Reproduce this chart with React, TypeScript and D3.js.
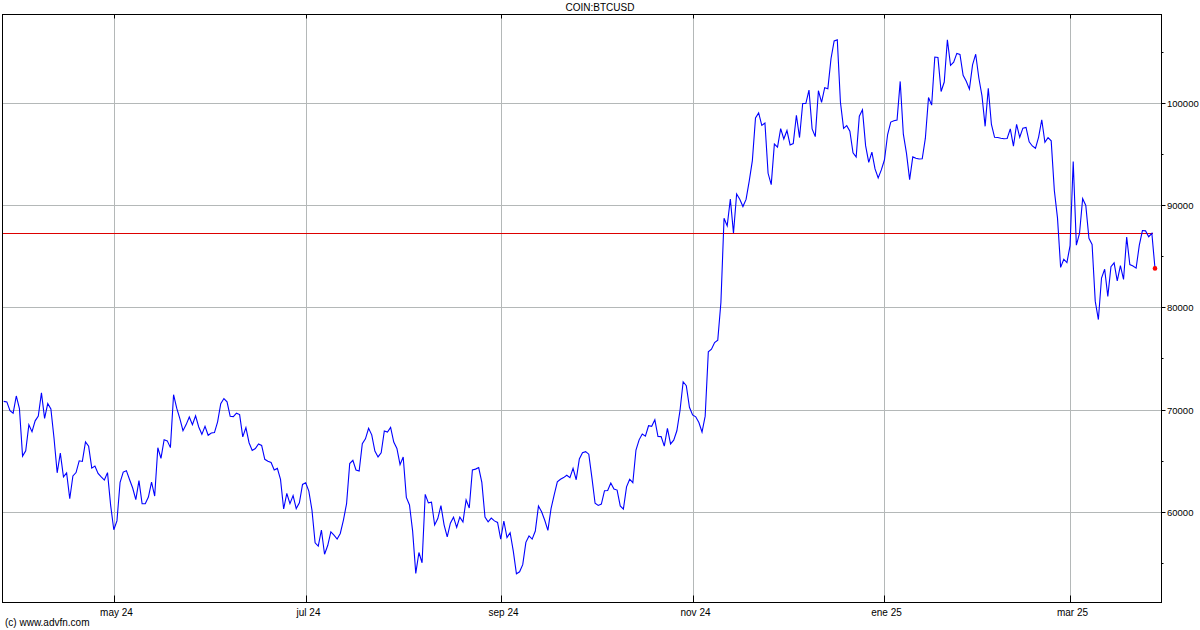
import React from "react";
import * as d3 from "d3";

// Daily BTC/USD closes, starting 27 Mar 2024 (one value per day)
const startDate = new Date(2024, 2, 27);
const closes: number[] = [
  // Mar 27 - Mar 31 2024
  70800, 70750, 69890, 69650, 71330,
  // Apr 2024
  70100, 65450, 65980, 68510, 67840, 68900, 69360, 71630, 69140, 70590,
  70060, 67200, 63820, 65740, 63430, 63810, 61280, 63510, 63840, 64990,
  64930, 66840, 66410, 64280, 64480, 63760, 63420, 63110, 63840, 60640,
  // May 2024
  58250, 59120, 62890, 63890, 64030, 63160, 62330, 61190, 63050, 60790,
  60790, 61450, 62900, 61550, 66270, 65230, 67050, 66940, 66280, 71450,
  70140, 69120, 67930, 68530, 69270, 68520, 69390, 68300, 67580, 68360, 67490,
  // Jun 2024
  67710, 67750, 68800, 70570, 71080, 70760, 69340, 69310, 69650, 69510,
  67330, 68240, 66760, 66010, 66190, 66640, 66490, 65140, 64960, 64830,
  64100, 64250, 63180, 60280, 61800, 60810, 61600, 60320, 60890, 62680,
  // Jul 2024
  62850, 62030, 60170, 56980, 56660, 58230, 55860, 56710, 58050, 57730,
  57340, 57890, 59200, 60800, 64730, 65040, 64090, 63990, 66660, 67140,
  68170, 67530, 65940, 65370, 65780, 67910, 67810, 68260, 66820, 66200, 64620,
  // Aug 2024
  65360, 61420, 60680, 58120, 53990, 56030, 55030, 61710, 60880, 60950,
  58720, 59350, 60610, 58740, 57560, 58890, 59480, 58480, 59490, 59010,
  61180, 60380, 64090, 64180, 64330, 62880, 59500, 59030, 59390, 59120, 58970,
  // Sep 2024
  57330, 59110, 57490, 57970, 56160, 53950, 54140, 54840, 57020, 57650,
  57340, 58130, 60570, 60010, 59180, 58190, 60310, 61650, 62940, 63190,
  63350, 63580, 63340, 64260, 63140, 65180, 65790, 65890, 65640, 63330,
  // Oct 2024
  60840, 60630, 60760, 62070, 62090, 62820, 62240, 62130, 60580, 60270,
  62450, 63190, 62850, 66050, 67040, 67610, 67400, 68420, 68360, 69000,
  67370, 67360, 66430, 68160, 66640, 67010, 67930, 69910, 72720, 72340, 70220,
  // Nov 2024
  69480, 69290, 68740, 67810, 69360, 75640, 75900, 76550, 76780, 80470,
  88700, 87960, 90590, 87250, 91070, 90560, 89850, 90540, 92340, 94340,
  98500, 99000, 97780, 98010, 93100, 91990, 95960, 95650, 97460, 96450,
  // Dec 2024
  97280, 95870, 96000, 98770, 96590, 99920, 99920, 101240, 97430, 96680,
  101170, 100040, 101460, 101370, 104300, 106030, 106140, 100040, 97490, 97760,
  97220, 95100, 94690, 98680, 99300, 95800, 94160, 95160, 93530, 92640, 93430,
  // Jan 2025
  94420, 96890, 98110, 98240, 98310, 102080, 96920, 95040, 92480, 94700,
  94570, 94490, 94520, 96530, 100500, 99760, 104460, 104410, 101090, 102020,
  106150, 103650, 103960, 104820, 104710, 102680, 102090, 101330, 103700, 104740, 102410,
  // Feb 2025
  100660, 97690, 101410, 97870, 96620, 96590, 96530, 96480, 96500, 97440,
  95750, 97890, 96620, 97510, 97580, 96180, 95770, 95540, 96640, 98330,
  96130, 96580, 96270, 91420, 88740, 83900, 84700, 84370,
  // Mar 2025
  86030, 94250, 86070, 87220, 90620, 89960, 86740, 86150, 80600, 78800,
  82860, 83720, 81070, 83970, 84340, 82580, 84080, 82720, 86860, 84170,
  84040, 83830, 86050, 87500, 87470, 86900, 87230, 83800,
];

const prevClose = 87230;
const title = "COIN:BTCUSD";
const footer = "(c) www.advfn.com";
const yTickValues = [60000, 70000, 80000, 90000, 100000];
const yMinorTickValues = [55000, 65000, 75000, 85000, 95000, 105000];
const monthTickDates = [
  new Date(2024, 4, 1),
  new Date(2024, 6, 1),
  new Date(2024, 8, 1),
  new Date(2024, 10, 1),
  new Date(2025, 0, 1),
  new Date(2025, 2, 1),
];
const monthTickLabels = ["may 24", "jul 24", "sep 24", "nov 24", "ene 25", "mar 25"];

export default function App() {
  const W = 1200;
  const H = 630;
  const left = 2.5;
  const right = 1161.5;
  const top = 14.5;
  const bottom = 602.5;

  const dates = closes.map((_, i) => d3.timeDay.offset(startDate, i));
  const x = d3
    .scaleTime()
    .domain([dates[0], dates[dates.length - 1]])
    .range([3.7, 1155]);
  const y = d3.scaleLinear().domain([51190, 108670]).range([602, 14]);

  const line = d3
    .line<number>()
    .x((_, i) => x(dates[i]))
    .y((d) => y(d));

  const font = "'Liberation Sans', Arial, sans-serif";
  const lastIdx = closes.length - 1;

  return (
    <div style={{ position: "absolute", left: 0, top: 0, width: W, height: H, background: "#fff" }}>
      <svg width={W} height={H} style={{ display: "block" }}>
        <rect x={0} y={0} width={W} height={H} fill="#fff" />
        {/* grid */}
        {yTickValues.map((v) => (
          <line
            key={"hg" + v}
            x1={left}
            x2={right}
            y1={Math.round(y(v)) + 0.5}
            y2={Math.round(y(v)) + 0.5}
            stroke="#b4b8b8"
            strokeWidth={1}
          />
        ))}
        {monthTickDates.map((d, i) => (
          <line
            key={"vg" + i}
            x1={Math.round(x(d)) + 0.5}
            x2={Math.round(x(d)) + 0.5}
            y1={top}
            y2={bottom}
            stroke="#b4b8b8"
            strokeWidth={1}
          />
        ))}
        {/* previous close line */}
        <line
          x1={3}
          x2={1153}
          y1={Math.round(y(prevClose)) + 0.5}
          y2={Math.round(y(prevClose)) + 0.5}
          stroke="#dd0000"
          strokeWidth={1}
        />
        {/* price line */}
        <path d={line(closes) || ""} fill="none" stroke="#0000ff" strokeWidth={1.1} />
        <circle cx={x(dates[lastIdx])} cy={y(closes[lastIdx])} r={2.3} fill="#ff0000" />
        {/* frame */}
        <rect
          x={left}
          y={top}
          width={right - left}
          height={bottom - top}
          fill="none"
          stroke="#000"
          strokeWidth={1}
        />
        {/* month ticks top & bottom */}
        {monthTickDates.map((d, i) => {
          const xx = Math.round(x(d)) + 0.5;
          return (
            <g key={"mt" + i}>
              <line x1={xx} x2={xx} y1={top} y2={top + 4} stroke="#000" />
              <line x1={xx} x2={xx} y1={bottom - 7} y2={bottom} stroke="#000" />
              <text
                x={xx + 2}
                y={616}
                textAnchor="middle"
                fontFamily={font}
                fontSize={10}
                fill="#000"
              >
                {monthTickLabels[i]}
              </text>
            </g>
          );
        })}
        {/* right axis ticks & labels */}
        {yTickValues.map((v) => {
          const yy = Math.round(y(v)) + 0.5;
          return (
            <g key={"yt" + v}>
              <line x1={right} x2={right + 4} y1={yy} y2={yy} stroke="#000" />
              <text
                x={1167}
                y={yy + 3.5}
                fontFamily={font}
                fontSize={9.5}
                fill="#000"
              >
                {v}
              </text>
            </g>
          );
        })}
        {yMinorTickValues.map((v) => {
          const yy = Math.round(y(v)) + 0.5;
          return <line key={"ym" + v} x1={right} x2={right + 2} y1={yy} y2={yy} stroke="#000" />;
        })}
        {/* title and footer */}
        <text x={600} y={11} textAnchor="middle" fontFamily={font} fontSize={10} fill="#000">
          {title}
        </text>
        <text x={5} y={626} fontFamily={font} fontSize={10} fill="#000">
          {footer}
        </text>
      </svg>
    </div>
  );
}
